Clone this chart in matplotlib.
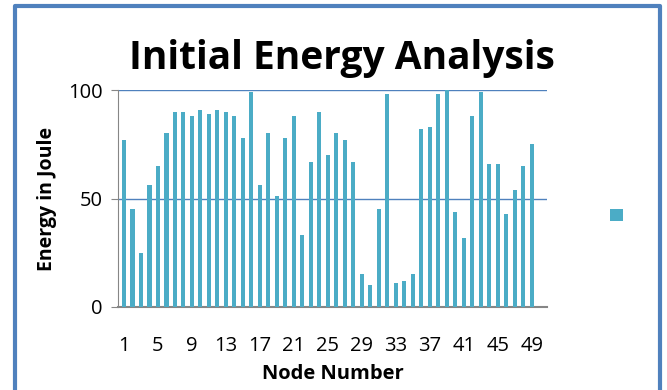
import matplotlib.pyplot as plt
from matplotlib.patches import Rectangle

# Node energies
nodes = list(range(1, 50))
energy = [77, 45, 25, 56, 65, 80, 90, 90, 88, 91,
          89, 91, 90, 88, 78, 99, 56, 80, 51, 78,
          88, 33, 67, 90, 70, 80, 77, 67, 15, 10,
          45, 98, 11, 12, 15, 82, 83, 98, 100, 44,
          32, 88, 99, 66, 66, 43, 54, 65, 75]
xtick_labels = list(range(1, 50, 4))

plt.rcParams['font.family'] = ['Open Sans', 'DejaVu Sans']

fig = plt.figure(figsize=(6.67, 3.9), dpi=100)
ax = fig.add_axes([0.177, 0.213, 0.643, 0.556])

ax.bar(nodes, energy, width=0.48, color='#4BACC6', zorder=3)

ax.set_xlim(0.3, 50.8)
ax.set_ylim(0, 100)
ax.set_yticks([0, 50, 100])
ax.set_xticks(xtick_labels)
ax.tick_params(axis='x', length=0, labelsize=14.5, pad=21)
ax.tick_params(axis='y', length=5, color='#868686', labelsize=14.5, pad=6)
ax.grid(axis='y', color='#4F81BD', linewidth=1, zorder=0)
for s in ['top', 'right']:
    ax.spines[s].set_visible(False)
ax.spines['left'].set_color('#868686')
ax.spines['bottom'].set_color('#868686')
ax.spines['bottom'].set_linewidth(1.5)

ax.set_xlabel('Node Number', fontsize=14.5, fontweight='bold', labelpad=6)
ax.set_ylabel('Energy in Joule', fontsize=14, fontweight='bold', labelpad=8)
fig.text(0.513, 0.85, 'Initial Energy Analysis', ha='center', va='center',
         fontsize=28, fontweight='bold')

# legend marker with no label
fig.add_artist(Rectangle((0.914, 0.433), 0.02, 0.032, transform=fig.transFigure,
                         facecolor='#4BACC6', edgecolor='none'))

# outer blue frame (open at the bottom)
fig.add_artist(plt.Line2D([0.022, 0.022, 0.99, 0.99], [0.0, 0.985, 0.985, 0.0],
                          transform=fig.transFigure, color='#4F81BD', linewidth=3))

fig.savefig('out.png', dpi=100)
